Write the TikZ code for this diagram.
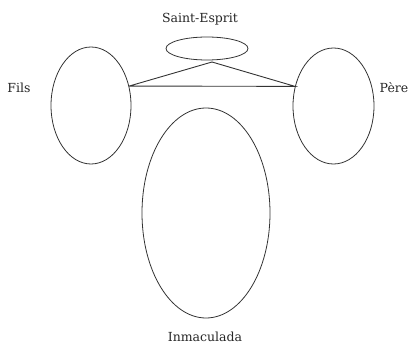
\documentclass[tikz,border=0pt]{standalone}
\usepackage{fontspec}
\setmainfont{DejaVu Serif}
\usetikzlibrary{shapes.geometric}
\begin{document}
\begin{tikzpicture}[x=1pt,y=-1pt,
  oval/.style={draw=black!80,line width=0.8pt,ellipse,inner sep=0pt},
  lbl/.style={font=\fontsize{12.5}{14}\selectfont,text=black!85,inner sep=0pt},
  link/.style={draw=black!80,line width=0.9pt}]
\useasboundingbox (0,0) rectangle (415,344);
\node[lbl] (tse) at (200,19) {Saint-Esprit};
\node[oval,minimum width=82pt,minimum height=23pt] (se) at (207,48.5) {};
\node[oval,minimum width=80pt,minimum height=117pt] (fils) at (91,105.5) {};
\node[oval,minimum width=81pt,minimum height=116pt] (pere) at (333.5,106) {};
\node[oval,minimum width=128pt,minimum height=210pt] (inm) at (206,213) {};
\node[lbl] (tfils) at (19,88) {Fils};
\node[lbl] (tpere) at (394,88) {Père};
\node[lbl] (tinm) at (205,337) {Inmaculada};
\coordinate (apex) at (212,62);
\draw[link] (fils.27) -- (apex) -- (pere.153) -- (fils.27);
\end{tikzpicture}
\end{document}
